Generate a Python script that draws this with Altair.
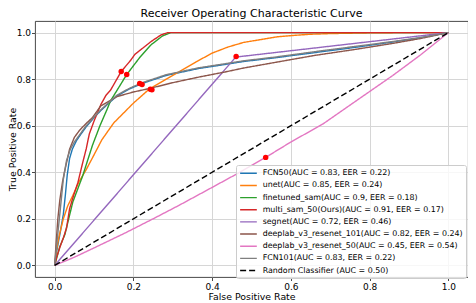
import altair as alt
import pandas as pd

FONT = "DejaVu Sans"

names = [
    "FCN50(AUC = 0.83, EER = 0.22)",
    "unet(AUC = 0.85, EER = 0.24)",
    "finetuned_sam(AUC = 0.9, EER = 0.18)",
    "multi_sam_50(Ours)(AUC = 0.91, EER = 0.17)",
    "segnet(AUC = 0.72, EER = 0.46)",
    "deeplab_v3_resenet_101(AUC = 0.82, EER = 0.24)",
    "deeplab_v3_resenet_50(AUC = 0.45, EER = 0.54)",
    "FCN101(AUC = 0.83, EER = 0.22)",
    "Random Classifier (AUC = 0.50)",
]
colors = ["#1f77b4", "#ff7f0e", "#2ca02c", "#d62728", "#9467bd",
          "#8c564b", "#e377c2", "#7f7f7f", "#000000"]

fcn50_fpr = [0, 0.005, 0.015, 0.022, 0.027, 0.032, 0.038, 0.045, 0.055, 0.065, 0.08, 0.1, 0.117,
             0.133, 0.158, 0.19, 0.221, 0.283, 0.366, 0.424, 0.48, 0.56, 0.66, 0.76, 0.86, 0.93, 1]
fcn50_tpr = [0, 0.06, 0.15, 0.22, 0.30, 0.39, 0.46, 0.50, 0.535, 0.56, 0.595, 0.635, 0.665,
             0.69, 0.728, 0.758, 0.781, 0.816, 0.846, 0.861, 0.876, 0.892, 0.914, 0.936, 0.96, 0.978, 1]

unet_fpr = [0, 0.005, 0.012, 0.022, 0.033, 0.046, 0.062, 0.08, 0.1, 0.12, 0.15, 0.2, 0.24,
            0.283, 0.316, 0.36, 0.4, 0.44, 0.48, 0.53, 0.565, 0.614, 0.65, 0.7, 0.8, 0.87, 1]
unet_tpr = [0, 0.07, 0.132, 0.2, 0.255, 0.3, 0.36, 0.411, 0.475, 0.54, 0.612, 0.697, 0.757,
            0.8, 0.832, 0.875, 0.912, 0.938, 0.958, 0.972, 0.982, 0.989, 0.993, 0.996, 0.999, 1.0, 1]

ftsam_fpr = [0, 0.013, 0.026, 0.046, 0.071, 0.096, 0.115, 0.133, 0.142, 0.183, 0.216, 0.245,
             0.274, 0.295, 1]
ftsam_tpr = [0, 0.08, 0.133, 0.272, 0.384, 0.516, 0.6, 0.67, 0.707, 0.82, 0.893, 0.948,
             0.986, 1.0, 1]

msam_fpr = [0, 0.005, 0.013, 0.022, 0.03, 0.038, 0.048, 0.059, 0.071, 0.08, 0.088, 0.1, 0.117,
            0.13, 0.142, 0.169, 0.18, 0.192, 0.204, 0.225, 0.245, 0.27, 0.287, 1]
msam_tpr = [0, 0.035, 0.077, 0.118, 0.16, 0.244, 0.3, 0.356, 0.44, 0.5, 0.565, 0.62, 0.69,
            0.73, 0.753, 0.833, 0.855, 0.879, 0.907, 0.935, 0.962, 0.99, 1.0, 1]

segnet_fpr = [0, 0.46, 1]
segnet_tpr = [0, 0.895, 1]

dl101_fpr = [0, 0.003, 0.008, 0.013, 0.02, 0.026, 0.038, 0.05, 0.063, 0.08, 0.096, 0.117,
             0.158, 0.2, 0.241, 0.3, 0.366, 0.43, 0.48, 0.56, 0.66, 0.76, 0.86, 0.93, 1]
dl101_tpr = [0, 0.08, 0.2, 0.28, 0.36, 0.41, 0.5, 0.55, 0.58, 0.61, 0.635, 0.685,
             0.725, 0.745, 0.76, 0.785, 0.809, 0.83, 0.848, 0.872, 0.902, 0.927, 0.954, 0.975, 1]

dl50_fpr = [0, 0.05, 0.1, 0.18, 0.25, 0.316, 0.4, 0.465, 0.536, 0.6, 0.681, 0.76, 0.859, 0.93, 1]
dl50_tpr = [0, 0.035, 0.075, 0.14, 0.2, 0.258, 0.335, 0.395, 0.464, 0.53, 0.607, 0.7, 0.816, 0.905, 1]

fcn101_fpr = [0, 0.004, 0.01, 0.016, 0.022, 0.03, 0.04, 0.05, 0.065, 0.08, 0.1, 0.117,
              0.133, 0.158, 0.19, 0.221, 0.283, 0.366, 0.424, 0.48, 0.56, 0.66, 0.76, 0.86, 0.93, 1]
fcn101_tpr = [0, 0.07, 0.17, 0.27, 0.37, 0.45, 0.5, 0.53, 0.565, 0.6, 0.637, 0.668,
              0.693, 0.731, 0.761, 0.784, 0.819, 0.849, 0.864, 0.879, 0.895, 0.918, 0.94, 0.962, 0.979, 1]

rand_fpr = [0, 1]
rand_tpr = [0, 1]

eer_fpr = [0.216, 0.243, 0.183, 0.169, 0.461, 0.247, 0.536, 0.222]
eer_tpr = [0.781, 0.757, 0.82, 0.833, 0.897, 0.755, 0.464, 0.777]

series = [
    (fcn50_fpr, fcn50_tpr), (unet_fpr, unet_tpr), (ftsam_fpr, ftsam_tpr),
    (msam_fpr, msam_tpr), (segnet_fpr, segnet_tpr), (dl101_fpr, dl101_tpr),
    (dl50_fpr, dl50_tpr), (fcn101_fpr, fcn101_tpr), (rand_fpr, rand_tpr),
]

rows = []
for k, (name, (fx, ty)) in enumerate(zip(names, series)):
    for i, (a, b) in enumerate(zip(fx, ty)):
        rows.append({"model": name, "fpr": a, "tpr": b, "idx": i, "k": k})
df = pd.DataFrame(rows)
dots = pd.DataFrame({"fpr": eer_fpr, "tpr": eer_tpr})

W, H = 433, 256
xscale = alt.Scale(domain=[-0.05, 1.05], nice=False, zero=False)
yscale = alt.Scale(domain=[-0.05, 1.05], nice=False, zero=False)
ticks = [0, 0.2, 0.4, 0.6, 0.8, 1.0]

leg = alt.Legend(
    title=None, orient="none", legendX=201, legendY=144,
    symbolType="M-1,0L3,0", symbolSize=69.7, symbolStrokeWidth=2,
    labelOffset=13.35, padding=3.3, rowPadding=3.15, labelLimit=400,
    labelFont=FONT, labelFontSize=7.9, labelColor="#000",
    fillColor="rgba(255,255,255,0.8)", strokeColor="#cccccc", cornerRadius=2,
)

lines = alt.Chart(df).mark_line(strokeCap="butt").encode(
    x=alt.X("fpr:Q", scale=xscale,
            axis=alt.Axis(values=ticks, format=".1f", title="False Positive Rate",
                          titleX=W / 2, titleY=22, titleBaseline="alphabetic")),
    y=alt.Y("tpr:Q", scale=yscale,
            axis=alt.Axis(values=ticks, format=".1f", title="True Positive Rate",
                          titleX=-19.5, titleY=H / 2, titleBaseline="alphabetic",
                          titleAlign="center", titleAngle=270)),
    color=alt.Color("model:N", scale=alt.Scale(domain=names, range=colors), legend=leg),
    strokeDash=alt.StrokeDash("model:N", scale=alt.Scale(domain=names, range=[[1, 0]] * 8 + [[6, 3]]),
                              legend=leg),
    strokeWidth=alt.StrokeWidth("model:N", scale=alt.Scale(domain=names, range=[1.4] * 8 + [1.9]),
                                legend=None),
    order=alt.Order("idx:Q"),
)

pts = alt.Chart(dots).mark_circle(color="#ff0000", opacity=1, size=30).encode(
    x=alt.X("fpr:Q", scale=xscale),
    y=alt.Y("tpr:Q", scale=yscale),
)

chart = alt.layer(lines, pts).properties(
    width=W, height=H,
    title=alt.Title("Receiver Operating Characteristic Curve", font=FONT, fontSize=11,
                    fontWeight="normal", color="#000", offset=4, dy=10.8, baseline="alphabetic",
                    anchor="middle", frame="group"),
    padding={"left": 27, "top": 13, "right": 0, "bottom": 26},
    autosize=alt.AutoSizeParams(type="none"),
).configure_view(
    stroke="#333", strokeWidth=0.9
).configure_axis(
    domain=False, grid=True, gridColor="#d6d6d6", gridWidth=1,
    tickSize=3.5, tickColor="#333", tickWidth=0.9,
    labelFont=FONT, labelFontSize=9, labelColor="#000", labelPadding=2,
    titleFont=FONT, titleFontSize=9.4, titleFontWeight="normal", titleColor="#000",
).configure_axisY(labelPadding=1)

chart.save("out.html", embed_options={"renderer": "svg", "actions": False})
